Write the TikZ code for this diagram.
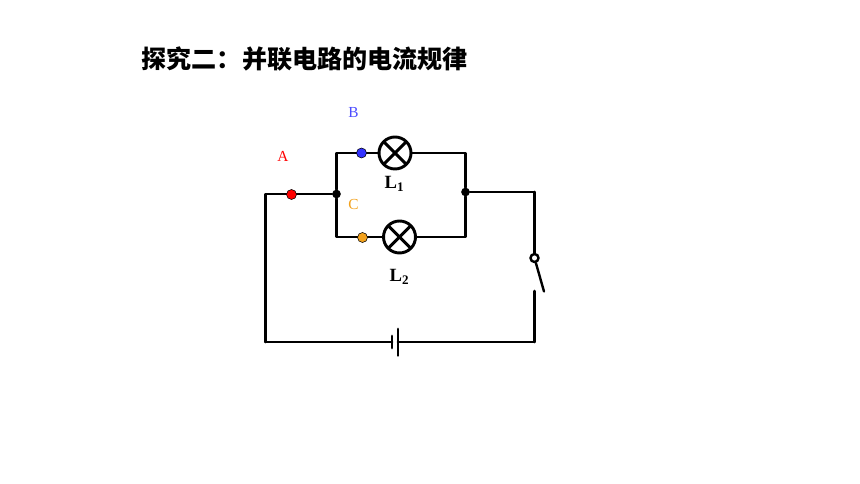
\documentclass[tikz,border=0pt]{standalone}
\usepackage{fontspec}
\setmainfont{Liberation Serif}
\newfontfamily\cjk{Noto Sans CJK SC}
\usepackage{tikz}
\definecolor{probeorange}{HTML}{F2A11C}
\tikzset{
    wire/.style={line width=2.2pt, line cap=round, line join=round},
    crosswire/.style={line width=2.2pt, shorten >=0.8pt, shorten <=0.8pt},
    thinwire/.style={line width=1.8pt, line cap=round},
    lamp/.style={circle, draw, line width=2.2pt, minimum size=24pt, inner sep=0pt},
    probe/.style={circle, draw=black, line width=0.4pt, minimum size=7.5pt, inner sep=0pt},
    junction/.style={circle, fill=black, minimum size=6.5pt, inner sep=0pt},
    pivot/.style={circle, draw, fill=white, line width=1.8pt, minimum size=6pt, inner sep=0pt},
    probelabel/.style={font=\fontsize{11.5}{12}\selectfont},
    lamplabel/.style={font=\fontsize{14}{15}\selectfont\bfseries}
}
\begin{document}
\begin{tikzpicture}[x=0.75pt, y=-0.75pt]
        \useasboundingbox (0,0) rectangle (860,484);
        % Title
        \node[anchor=west, inner sep=0pt, font=\cjk\bfseries\fontsize{18.8}{20}\selectfont] (title) at (141.5,59) {探究二：并联电路的电流规律};
        % Corners of the loop
        \coordinate (leftTop) at (265.3,194);
        \coordinate (leftBot) at (265.3,342);
        \coordinate (rightTop) at (534.5,192);
        \coordinate (rightBot) at (534.5,342);
        \coordinate (branchTL) at (336.5,153);
        \coordinate (branchTR) at (465.5,153);
        \coordinate (branchBL) at (336.5,237);
        \coordinate (branchBR) at (465.5,237);
        % Junctions and lamps
        \node[junction] (jLeft) at (336.5,194) {};
        \node[junction] (jRight) at (465.5,192) {};
        \node[lamp] (lampOne) at (395,153) {};
        \node[lamp] (lampTwo) at (399.5,237) {};
        % Wires
        \draw[wire] (jLeft) -- (leftTop) -- (leftBot);
        \draw[wire] (jLeft) -- (branchTL) -- (lampOne);
        \draw[wire] (jLeft) -- (branchBL) -- (lampTwo);
        \draw[wire] (lampOne) -- (branchTR) -- (jRight);
        \draw[wire] (lampTwo) -- (branchBR) -- (jRight);
        \draw[wire] (jRight) -- (rightTop);
        % Lamp crosses
        \draw[crosswire] (lampOne.45) -- (lampOne.225);
        \draw[crosswire] (lampOne.135) -- (lampOne.315);
        \draw[crosswire] (lampTwo.45) -- (lampTwo.225);
        \draw[crosswire] (lampTwo.135) -- (lampTwo.315);
        % Switch
        \node[pivot] (pivot) at (534.5,258) {};
        \coordinate (bladeEnd) at (544,291.5);
        \coordinate (contact) at (534.5,291);
        \draw[wire] (rightTop) -- (pivot);
        \draw[thinwire] (pivot) -- (bladeEnd);
        \draw[wire] (contact) -- (rightBot);
        % Battery
        \coordinate (cellShort) at (392,342);
        \coordinate (cellLong) at (398,342);
        \coordinate (shortTop) at (392,336);
        \coordinate (shortBot) at (392,348);
        \coordinate (longTop) at (398,329);
        \coordinate (longBot) at (398,355.5);
        \draw[wire] (leftBot) -- (cellShort);
        \draw[wire] (cellLong) -- (rightBot);
        \draw[wire] (shortTop) -- (shortBot);
        \draw[wire] (longTop) -- (longBot);
        % Probe points
        \node[probe, fill=red] (probeA) at (291.5,194.5) {};
        \node[probe, fill=blue!80!white] (probeB) at (361.5,153) {};
        \node[probe, fill=probeorange] (probeC) at (362.5,237.5) {};
        % Labels
        \node[probelabel, text=red] (labelA) at (283,156) {A};
        \node[probelabel, text=blue!70!white] (labelB) at (353.5,113) {B};
        \node[probelabel, text=probeorange] (labelC) at (353.5,205) {C};
        \node[lamplabel] (labelOne) at (394.5,184) {L\textsubscript{1}};
        \node[lamplabel] (labelTwo) at (399.5,277) {L\textsubscript{2}};
    \end{tikzpicture}
\end{document}
